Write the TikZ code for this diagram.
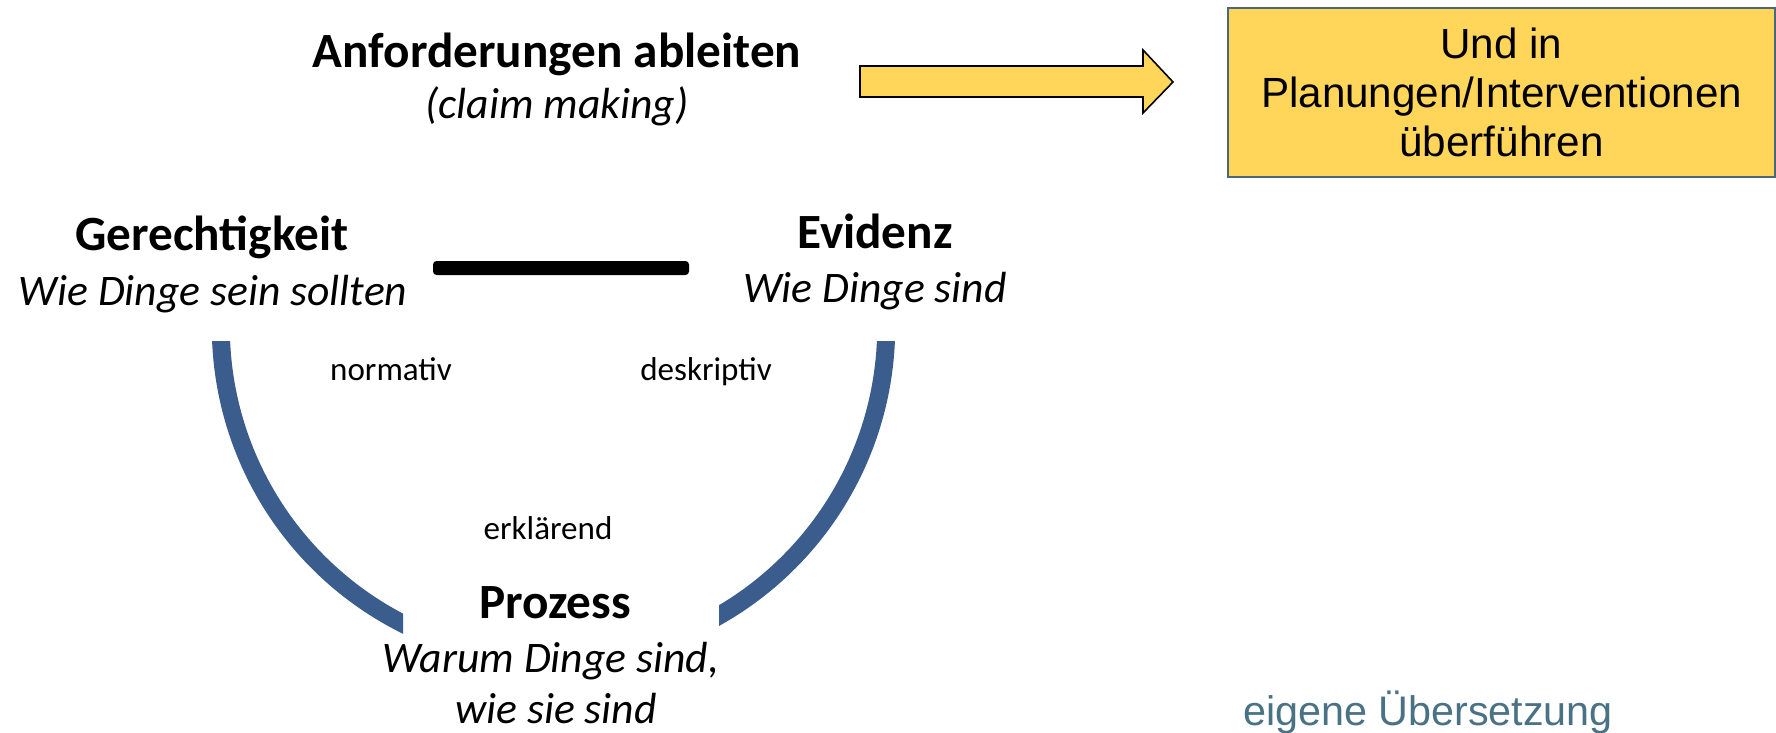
\documentclass[tikz,border=0pt]{standalone}
\usepackage{fontspec}
\setmainfont{Carlito}
\newfontfamily\arialfont{Liberation Sans}
\usetikzlibrary{positioning,calc}
\definecolor{ArcBlue}{RGB}{58,93,142}
\definecolor{GoalYellow}{RGB}{255,213,90}
\definecolor{GoalEdge}{RGB}{76,104,120}
\definecolor{NoteTeal}{RGB}{74,114,133}
\tikzset{
  headtxt/.style ={anchor=base, inner sep=0pt, font=\fontsize{14}{17}\selectfont\bfseries},
  subtxt/.style  ={anchor=base, inner sep=0pt, font=\fontsize{12.4}{15}\selectfont\itshape},
  sidetxt/.style ={anchor=base, inner sep=0pt, font=\fontsize{9.4}{11}\selectfont},
  goalbox/.style ={rectangle, draw=GoalEdge, line width=.6pt, fill=GoalYellow,
                   align=center, inner sep=0pt, minimum width=5.47cm, minimum height=1.69cm,
                   font=\arialfont\fontsize{12}{13.9}\selectfont},
  notetxt/.style ={anchor=base, inner sep=0pt, text=NoteTeal,
                   font=\arialfont\fontsize{11.75}{14}\selectfont},
  blockarr/.style={draw=black, line width=.45pt, fill=GoalYellow, line join=miter},
  ringarc/.style ={draw=ArcBlue, line width=1.8mm},
  tiebar/.style  ={fill=black, rounded corners=1pt},
}

\begin{document}
\begin{tikzpicture}[x=0.01cm,y=0.01cm]
  \useasboundingbox (0,0) rectangle (1776,732);

  \node[headtxt] (claim) at (557,665) {Anforderungen ableiten};
  \node[subtxt] (claimsub) at (557,614) {(claim making)};

  \draw[blockarr] (860,666) -- (1143,666) -- (1143,682) -- (1173,650)
    -- (1143,619) -- (1143,635) -- (860,635) -- cycle;

  \node[goalbox] (plan) at (1501.5,639.5) {Und in\\Planungen/Interventionen\\überführen};

  \node[headtxt] (just) at (212,482) {Gerechtigkeit};
  \node[subtxt] (justsub) at (213,427) {Wie Dinge sein sollten};
  \node[headtxt] (evid) at (875,484) {Evidenz};
  \node[subtxt] (evidsub) at (875,430) {Wie Dinge sind};

  \coordinate (barL) at (433,464);
  \coordinate (barR) at (689,464);
  \fill[tiebar] ($(barL)+(0,-7)$) rectangle ($(barR)+(0,7)$);

  \coordinate (ctr) at (553.5,405);
  \begin{scope}
    \clip (0,0) rectangle (403,391);
    \draw[ringarc] (ctr) ++(170:3.325cm) arc[start angle=170,end angle=265,radius=3.325cm];
  \end{scope}
  \begin{scope}
    \clip (719,0) rectangle (1776,391);
    \draw[ringarc] (ctr) ++(275:3.325cm) arc[start angle=275,end angle=370,radius=3.325cm];
  \end{scope}

  \node[sidetxt] (norm) at (391,352) {normativ};
  \node[sidetxt] (desc) at (706,352) {deskriptiv};
  \node[sidetxt] (expl) at (548,193) {erklärend};

  \node[headtxt] (proc) at (555,114) {Prozess};
  \node[subtxt] (procsub) at (551,60) {Warum Dinge sind,};
  \node[subtxt] (procsub2) at (556,9) {wie sie sind};

  \node[notetxt] (note) at (1428,7) {eigene Übersetzung};
\end{tikzpicture}
\end{document}
